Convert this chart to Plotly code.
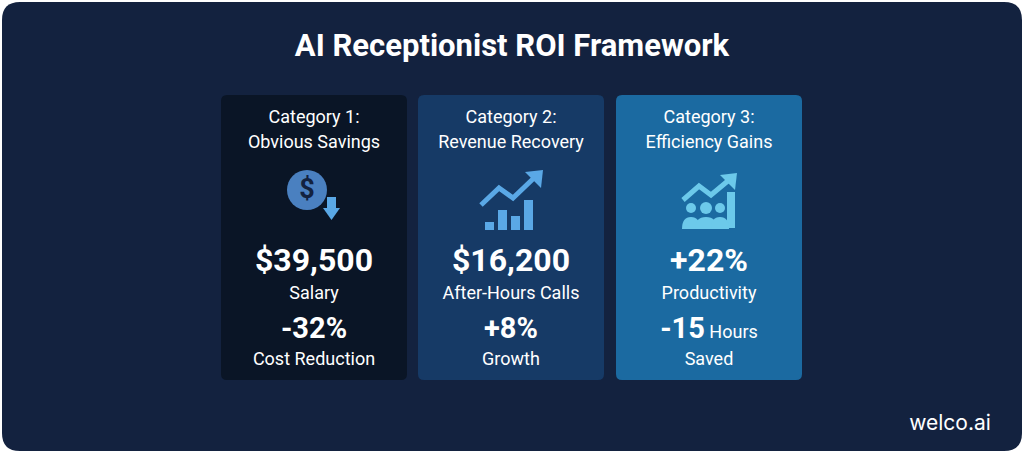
import plotly.graph_objects as go

title = "AI Receptionist ROI Framework"
cat_line1 = ["Category 1:", "Category 2:", "Category 3:"]
cat_line2 = ["Obvious Savings", "Revenue Recovery", "Efficiency Gains"]
main_values = ["$39,500", "$16,200", "+22%"]
main_labels = ["Salary", "After-Hours Calls", "Productivity"]
second_values = ["-32%", "+8%", "-15"]
second_labels = ["Cost Reduction", "Growth", "Saved"]
second_suffix = ["", "", " Hours"]
card_colors = ["#0a1526", "#163a66", "#1b6aa1"]
centers = [314, 511, 709]
W, H = 1024, 453

def rrect(x0, y0, x1, y1, r):
    return (f"M{x0+r},{y0} L{x1-r},{y0} Q{x1},{y0} {x1},{y0+r} L{x1},{y1-r} Q{x1},{y1} {x1-r},{y1} "
            f"L{x0+r},{y1} Q{x0},{y1} {x0},{y1-r} L{x0},{y0+r} Q{x0},{y0} {x0+r},{y0} Z")

shapes = [dict(type="path", path=rrect(2, 2, 1022, 451, 18), fillcolor="#13223f", line_width=0)]
for c, col in zip(centers, card_colors):
    shapes.append(dict(type="path", path=rrect(c-93, 95, c+93, 380, 6), fillcolor=col, line_width=0))

icon2 = "#5aa8e6"
icon3 = "#6cc9ea"
# Icon 1: dollar coin with down arrow
c = centers[0]
shapes.append(dict(type="circle", x0=c-27, y0=170, x1=c+13, y1=210, fillcolor="#4a80c0", line_width=0))
shapes.append(dict(type="rect", x0=c+13, y0=197, x1=c+22, y1=208, fillcolor=icon2, line_width=0))
shapes.append(dict(type="path", path=f"M{c+9},208 L{c+26},208 L{c+17.5},220 Z", fillcolor=icon2, line_width=0))
# Icon 2: bar chart with arrow
c = centers[1]
for i, h in enumerate([8, 20, 14, 30]):
    shapes.append(dict(type="rect", x0=c-26+i*13, y0=230-h, x1=c-17+i*13, y1=230, fillcolor=icon2, line_width=0))
shapes.append(dict(type="path", path=f"M{c-30},205 L{c-12},188 L{c+2},198 L{c+24},177", line=dict(color=icon2, width=5)))
shapes.append(dict(type="path", path=f"M{c+14},172 L{c+32},170 L{c+30},188 Z", fillcolor=icon2, line_width=0))
# Icon 3: people with arrow
c = centers[2]
shapes.append(dict(type="path", path=f"M{c-26},200 L{c-10},186 L{c+2},195 L{c+20},180", line=dict(color=icon3, width=5)))
shapes.append(dict(type="path", path=f"M{c+11},175 L{c+28},173 L{c+26},190 Z", fillcolor=icon3, line_width=0))
shapes.append(dict(type="rect", x0=c+18, y0=192, x1=c+26, y1=228, fillcolor=icon3, line_width=0))
for dx, r in [(-18, 5), (-3, 6), (11, 5)]:
    shapes.append(dict(type="circle", x0=c+dx-r, y0=208-r, x1=c+dx+r, y1=208+r, fillcolor=icon3, line_width=0))
for dx, w in [(-18, 9), (-3, 11), (11, 9)]:
    shapes.append(dict(type="path", path=f"M{c+dx-w},229 Q{c+dx-w},217 {c+dx},217 Q{c+dx+w},217 {c+dx+w},229 Z", fillcolor=icon3, line_width=0))
for s in shapes:
    s["layer"] = "below"

fig = go.Figure()
F = "Roboto"
def txt(xs, ys, texts, size, weight="normal", color="white", family=F):
    fig.add_trace(go.Scatter(x=xs, y=ys, mode="text", text=texts, hoverinfo="skip",
                             textfont=dict(family=family, size=size, color=color, weight=weight),
                             showlegend=False))

txt([512], [48], [title], 31, "bold")
txt(centers, [118]*3, cat_line1, 18)
txt(centers, [143]*3, cat_line2, 18)
txt([centers[0]-7], [191], ["$"], 27, "bold", "#13223f")
txt(centers, [263]*3, main_values, 32, "bold")
txt(centers, [294]*3, main_labels, 18)
txt(centers, [331]*3, [v + (f"<span style='font-size:18px;font-weight:normal'>{s}</span>" if s else "") for v, s in zip(second_values, second_suffix)], 29, "bold")
txt(centers, [360]*3, second_labels, 18)
txt([950], [425], ["welco.ai"], 21, "normal", "white", "Inter")

fig.update_layout(width=W, height=H, margin=dict(l=0, r=0, t=0, b=0),
                  paper_bgcolor="white", plot_bgcolor="white", shapes=shapes,
                  xaxis=dict(range=[0, W], visible=False, fixedrange=True),
                  yaxis=dict(range=[H, 0], visible=False, fixedrange=True))
fig.write_html("out.html", config={"displayModeBar": False},
               post_script="document.body.style.margin='0';document.body.style.overflow='hidden';")
